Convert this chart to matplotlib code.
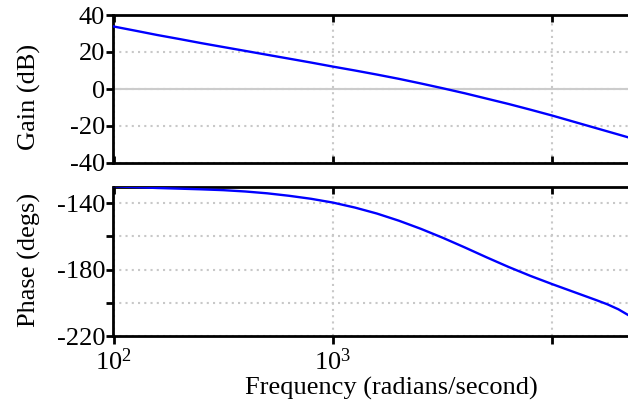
import matplotlib
matplotlib.use("Agg")
import matplotlib.pyplot as plt
from matplotlib.ticker import FixedLocator, FixedFormatter, NullLocator

# ---------- Data ----------
freq = [100, 126, 158, 200, 251, 316, 398, 501, 631, 794, 1000, 1259, 1585,
        1995, 2512, 3162, 3981, 5012, 6310, 7943, 10000, 12589, 15849,
        17783, 19953, 22080]
gain_db = [33.8, 31.5, 29.2, 27.0, 24.8, 22.7, 20.6, 18.5, 16.4, 14.3, 12.1,
           10.0, 7.8, 5.5, 3.0, 0.4, -2.3, -5.2, -8.1, -11.2, -14.4, -17.8,
           -21.2, -22.9, -24.6, -26.1]
phase_deg = [-129.8, -130.3, -130.8, -131.2, -131.6, -132.1, -132.9, -134.0,
             -135.5, -137.3, -139.6, -142.6, -146.2, -150.5, -155.4, -160.8,
             -166.6, -172.6, -178.4, -183.8, -188.8, -193.6, -198.4, -200.9,
             -203.9, -207.3]

x_ticks = [100, 1000, 10000]
x_labels = [r'$\mathregular{10^{2}}$', r'$\mathregular{10^{3}}$', '']
gain_ticks = [-40, -20, 0, 20, 40]
gain_labels = ['-40', '-20', '0', '20', '40']
phase_ticks = [-220, -200, -180, -160, -140]
phase_labels = ['-220', '', '-180', '', '-140']

# ---------- Style ----------
plt.rcParams['font.family'] = ['Liberation Serif', 'DejaVu Serif']
plt.rcParams['mathtext.fontset'] = 'custom'
plt.rcParams['mathtext.rm'] = 'Liberation Serif'
FS = 19
GRID = '#c8c8c8'

W, H = 628, 408
fig = plt.figure(figsize=(W / 100, H / 100), dpi=100)
left = 113.5 / W
width = 1.0 - left
ax1 = fig.add_axes([left, 1 - 163 / H, width, (163 - 15) / H])
ax2 = fig.add_axes([left, 1 - 336 / H, width, (336 - 187) / H])

xmax = 10 ** (2 + (628 - 113.5) / 219.5)


def style_axis(ax):
    ax.set_xscale('log')
    ax.set_xlim(100, xmax)
    ax.xaxis.set_major_locator(FixedLocator(x_ticks))
    ax.xaxis.set_minor_locator(NullLocator())
    ax.yaxis.set_minor_locator(NullLocator())
    ax.spines['right'].set_visible(False)
    for s in ('left', 'top', 'bottom'):
        ax.spines[s].set_linewidth(2)
    ax.tick_params(axis='y', direction='out', length=5, width=2,
                   labelsize=FS, pad=1)
    ax.grid(True, color=GRID, linestyle=(0, (1, 2)), linewidth=1.5)
    ax.set_axisbelow(True)


# ---------- Gain ----------
style_axis(ax1)
ax1.set_ylim(-40, 40)
ax1.yaxis.set_major_locator(FixedLocator(gain_ticks))
ax1.yaxis.set_major_formatter(FixedFormatter(gain_labels))
ax1.tick_params(axis='x', direction='in', top=True, bottom=True,
                length=5, width=2, labelbottom=False)
ax1.axhline(0, color='#cccccc', linewidth=1.5, zorder=1.5)
ax1.plot(freq, gain_db, color='#0000ff', linewidth=1.7, zorder=3)

# ---------- Phase ----------
style_axis(ax2)
ax2.set_ylim(-220, -130.2)
ax2.yaxis.set_major_locator(FixedLocator(phase_ticks))
ax2.yaxis.set_major_formatter(FixedFormatter(phase_labels))
ax2.xaxis.set_major_formatter(FixedFormatter(x_labels))
ax2.tick_params(axis='x', direction='out', length=6, width=2,
                labelsize=FS, pad=3)
ax2.plot(freq, phase_deg, color='#0000ff', linewidth=1.7, zorder=3)

# inward ticks along the top edge of the phase panel
top = ax2.twiny()
top.set_xscale('log')
top.set_xlim(ax2.get_xlim())
top.xaxis.set_major_locator(FixedLocator(x_ticks))
top.xaxis.set_minor_locator(NullLocator())
top.tick_params(axis='x', direction='in', length=5, width=2, labeltop=False)
for s in top.spines.values():
    s.set_visible(False)

# ---------- Labels ----------
fig.text(29 / W, 1 - 97 / H, 'Gain (dB)', rotation=90, ha='center',
         va='center', fontsize=FS)
fig.text(29 / W, 1 - 260 / H, 'Phase (degs)', rotation=90, ha='center',
         va='center', fontsize=FS)
fig.text(391.5 / W, 1 - 388 / H, 'Frequency (radians/second)', ha='center',
         va='center', fontsize=FS)

fig.savefig('out.png', dpi=100)
